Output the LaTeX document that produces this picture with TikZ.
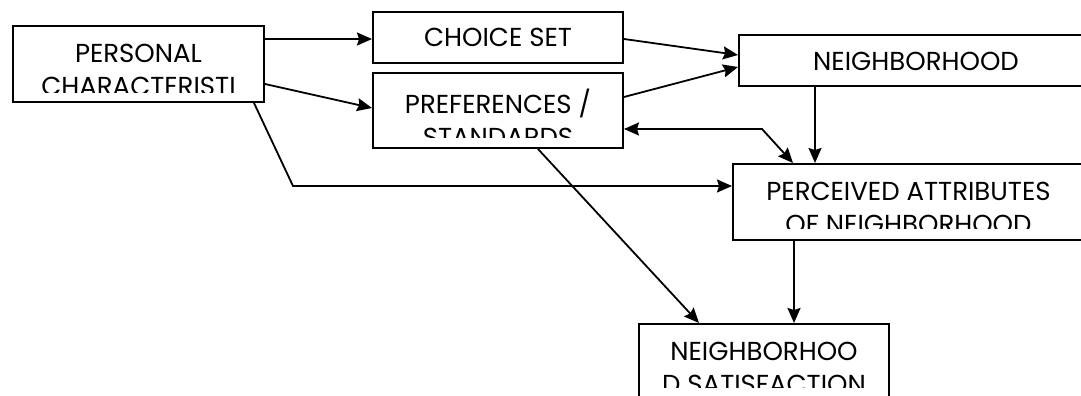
\documentclass[tikz,border=0pt]{standalone}
\usepackage{fontspec}
\setmainfont{Poppins}
\usetikzlibrary{arrows.meta,calc}
\tikzset{
  box/.style={draw=black, line width=2pt, inner sep=0pt, anchor=north west},
  lbl/.style={inner sep=0pt, anchor=north, align=center, font=\fontsize{26}{33}\selectfont},
  arr/.style={line width=1.8pt, -{Stealth[length=15pt,width=13pt,inset=2pt]}},
  darr/.style={line width=1.8pt, {Stealth[length=15pt,width=13pt,inset=2pt]}-{Stealth[length=15pt,width=13pt,inset=2pt]}}
}
\begin{document}
\begin{tikzpicture}[x=1pt,y=-1pt]
\fill[white] (0,0) rectangle (1081,396);
\useasboundingbox (0,0) rectangle (1081,396);
\clip (0,0) rectangle (1081,396);
% boxes
\node[box, minimum width=251pt, minimum height=76pt] (pc) at (12,25) {};
\node[box, minimum width=250pt, minimum height=51pt] (cs) at (372,11) {};
\node[box, minimum width=250pt, minimum height=75pt] (ps) at (372,72) {};
\node[box, minimum width=354pt, minimum height=51pt] (nb) at (738,34) {};
\node[box, minimum width=351pt, minimum height=76pt] (pa) at (732,163) {};
\node[box, minimum width=250pt, minimum height=90pt] (ns) at (638,323) {};
% texts
\begin{scope}
\clip (12,25) rectangle (263,92);
\node[lbl] (pct) at ([yshift=-19pt]pc.north) {PERSONAL\\CHARACTERISTI};
\end{scope}
\node[lbl] (cst) at ([yshift=-17pt]cs.north) {CHOICE SET};
\begin{scope}
\clip (372,72) rectangle (622,137);
\node[lbl] (pst) at ([yshift=-17pt]ps.north) {PREFERENCES /\\STANDARDS};
\end{scope}
\node[lbl] (nbt) at ([yshift=-18pt]nb.north) {NEIGHBORHOOD};
\begin{scope}
\clip (732,163) rectangle (1083,228);
\node[lbl] (pat) at ([yshift=-19pt]pa.north) {PERCEIVED ATTRIBUTES\\OF NEIGHBORHOOD};
\end{scope}
\begin{scope}
\clip (638,323) rectangle (888,387);
\node[lbl] (nst) at ([yshift=-19pt]ns.north) {NEIGHBORHOO\\D SATISFACTION};
\end{scope}
% connectors
\coordinate (k1) at (293,186);
\coordinate (k2) at (762,129);
\draw[arr] ([yshift=-14pt]pc.north east) -- ([yshift=-28pt]cs.north west);
\draw[arr] ([yshift=-59pt]pc.north east) -- ([yshift=-36pt]ps.north west);
\draw[arr] ([xshift=-11pt]pc.south east) -- (k1) -- ([yshift=-23pt]pa.north west);
\draw[arr] ([yshift=-28pt]cs.north east) -- ([yshift=-21pt]nb.north west);
\draw[arr] ([yshift=-25pt]ps.north east) -- ([yshift=-33pt]nb.north west);
\draw[darr] ([yshift=-57pt]ps.north east) -- (k2) -- ([xshift=61pt]pa.north west);
\draw[arr] ([xshift=77pt]nb.south west) -- ([xshift=83pt]pa.north west);
\draw[arr] ([xshift=166pt]ps.south west) -- ([xshift=61pt]ns.north west);
\draw[arr] ([xshift=62pt]pa.south west) -- ([xshift=156pt]ns.north west);
\end{tikzpicture}
\end{document}
